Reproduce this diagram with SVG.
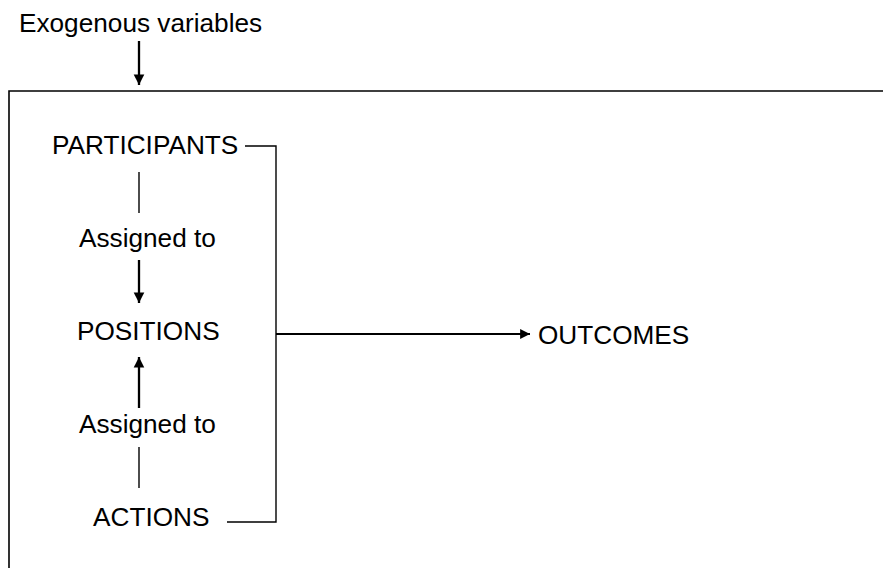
<svg xmlns="http://www.w3.org/2000/svg" width="883" height="568" viewBox="0 0 883 568">
<defs>
<style>
text{font-family:"Liberation Sans",Arial,sans-serif;font-size:26.2px;fill:#000}
.thin{stroke:#000;stroke-width:1.4;fill:none}
.arr{stroke:#000;stroke-width:2.3;fill:none}
.frame{stroke:#000;stroke-width:1.6;fill:none}
</style>
<marker id="ah" viewBox="0 0 10 10" refX="10" refY="5" markerWidth="4.6" markerHeight="5" orient="auto" markerUnits="strokeWidth">
<path d="M0,0 L10,5 L0,10 z" fill="#000"/>
</marker>
<marker id="ahs" viewBox="0 0 10 10" refX="10" refY="5" markerWidth="6" markerHeight="5.5" orient="auto" markerUnits="strokeWidth">
<path d="M0,0 L10,5 L0,10 z" fill="#000"/>
</marker>
</defs>
<rect width="883" height="568" fill="#fff"/>
<g id="frame">
<path class="frame" d="M9,580 V91 H890"/>
</g>
<g id="exogenous"><text x="19" y="32">Exogenous variables</text></g>
<g id="participants"><text x="52" y="154">PARTICIPANTS</text></g>
<g id="assigned1"><text x="79" y="247">Assigned to</text></g>
<g id="positions"><text x="77" y="340">POSITIONS</text></g>
<g id="assigned2"><text x="79" y="433">Assigned to</text></g>
<g id="actions"><text x="93" y="526">ACTIONS</text></g>
<g id="outcomes"><text x="538" y="344">OUTCOMES</text></g>
<g id="connectors">
<line class="arr" x1="139" y1="41" x2="139" y2="85" marker-end="url(#ah)"/>
<line class="thin" x1="139" y1="172" x2="139" y2="213"/>
<line class="arr" x1="139" y1="260" x2="139" y2="303" marker-end="url(#ah)"/>
<line class="arr" x1="139" y1="408" x2="139" y2="357" marker-end="url(#ah)"/>
<line class="thin" x1="139" y1="447" x2="139" y2="488"/>
<path class="thin" d="M245,146 H276 V522 H227"/>
<line class="arr" x1="276" y1="334" x2="530" y2="334" style="stroke-width:1.8" marker-end="url(#ahs)"/>
</g>
</svg>
